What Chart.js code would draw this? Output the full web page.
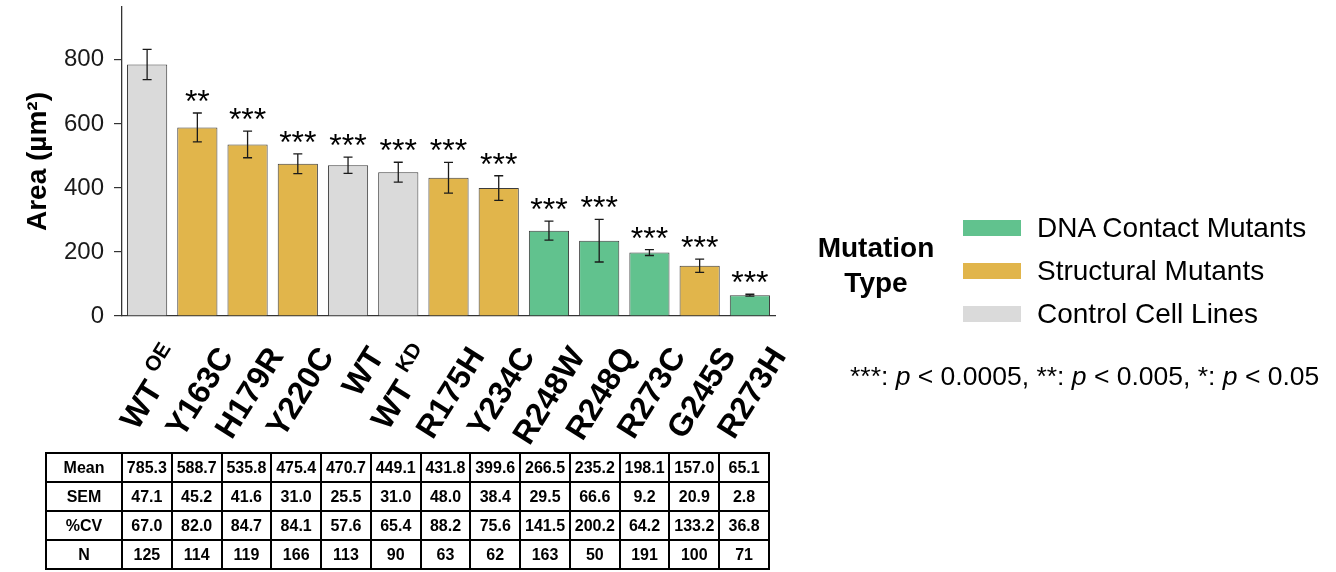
<!DOCTYPE html>
<html>
<head>
<meta charset="utf-8">
<script src="https://cdn.jsdelivr.net/npm/chart.js@4/dist/chart.umd.min.js"></script>
<style>
  html, body { margin: 0; padding: 0; background: #fff; width: 1336px; height: 572px; overflow: hidden; }
  body { position: relative; font-family: "Liberation Sans", Arial, Helvetica, sans-serif; color: #000; }
  #c { position: absolute; left: 0; top: 0; }
  .legend-title { position: absolute; left: 806px; top: 230px; width: 140px; text-align: center; font-weight: bold; font-size: 28px; line-height: 35px; }
  .sw { position: absolute; left: 963px; width: 58px; height: 16px; }
  .lt { position: absolute; left: 1037px; font-size: 28px; line-height: 32px; height: 32px; white-space: nowrap; }
  .foot { position: absolute; left: 850px; top: 360px; font-size: 26.5px; line-height: 32px; white-space: nowrap; }
  table.stats { position: absolute; left: 45px; top: 452px; border-collapse: collapse; table-layout: fixed; width: 723px; font-weight: bold; font-size: 16px; }
  table.stats td { border: 2px solid #000; text-align: center; height: 27px; padding: 0; line-height: 27px; }
</style>
</head>
<body>
<canvas id="c" width="1336" height="572"></canvas>
<div class="legend-title">Mutation<br>Type</div>
<div id="legend"></div>
<div class="foot">***: <i>p</i> &lt; 0.0005, **: <i>p</i> &lt; 0.005, *: <i>p</i> &lt; 0.05</div>
<table class="stats" id="stats"></table>
<script>
// ---------- data ----------
const categories = ['WT', 'Y163C', 'H179R', 'Y220C', 'WT', 'WT', 'R175H', 'Y234C', 'R248W', 'R248Q', 'R273C', 'G245S', 'R273H'];
const superscripts = ['OE', '', '', '', '', 'KD', '', '', '', '', '', '', ''];
const types = ['Control', 'Structural', 'Structural', 'Structural', 'Control', 'Control', 'Structural', 'Structural', 'DNA', 'DNA', 'DNA', 'Structural', 'DNA'];
const meanValues = [785.3, 588.7, 535.8, 475.4, 470.7, 449.1, 431.8, 399.6, 266.5, 235.2, 198.1, 157.0, 65.1];
const semValues = [47.1, 45.2, 41.6, 31.0, 25.5, 31.0, 48.0, 38.4, 29.5, 66.6, 9.2, 20.9, 2.8];
const cvValues = [67.0, 82.0, 84.7, 84.1, 57.6, 65.4, 88.2, 75.6, 141.5, 200.2, 64.2, 133.2, 36.8];
const nValues = [125, 114, 119, 166, 113, 90, 63, 62, 163, 50, 191, 100, 71];
const significance = ['', '**', '***', '***', '***', '***', '***', '***', '***', '***', '***', '***', '***'];
const yTicks = [0, 200, 400, 600, 800];
const legendTypes = ['DNA', 'Structural', 'Control'];
const legendLabels = ['DNA Contact Mutants', 'Structural Mutants', 'Control Cell Lines'];
const typeColors = { DNA: '#61C28E', Structural: '#E1B54B', Control: '#DADADA' };

const FONT = "'Liberation Sans', Arial, Helvetica, sans-serif";
Chart.defaults.font.family = FONT;

const chartLabels = categories.map((c, i) => superscripts[i] ? c + ' ' + superscripts[i] : c);

// ---------- plugins ----------
const errorBarPlugin = {
  id: 'errorBars',
  afterDatasetsDraw(chart) {
    const ctx = chart.ctx, xs = chart.scales.x, ys = chart.scales.y;
    ctx.save();
    ctx.strokeStyle = '#1a1a1a';
    ctx.lineWidth = 1.3;
    meanValues.forEach((m, i) => {
      const x = xs.getPixelForValue(i);
      const yt = ys.getPixelForValue(m + semValues[i]);
      const yb = ys.getPixelForValue(m - semValues[i]);
      ctx.beginPath();
      ctx.moveTo(x, yt); ctx.lineTo(x, yb);
      ctx.moveTo(x - 4.5, yt); ctx.lineTo(x + 4.5, yt);
      ctx.moveTo(x - 4.5, yb); ctx.lineTo(x + 4.5, yb);
      ctx.stroke();
      if (significance[i]) {
        ctx.fillStyle = '#000';
        ctx.font = '32px ' + FONT;
        ctx.textAlign = 'center';
        ctx.textBaseline = 'alphabetic';
        ctx.fillText(significance[i], x, yt - 1);
      }
    });
    ctx.restore();
  }
};

const xLabelPlugin = {
  id: 'xLabels',
  afterDraw(chart) {
    const ctx = chart.ctx, xs = chart.scales.x;
    const ang = 58 * Math.PI / 180;
    const mainFont = 'bold 32px ' + FONT;
    const supFont = 'bold 21px ' + FONT;
    ctx.save();
    ctx.fillStyle = '#000';
    ctx.textAlign = 'left';
    ctx.textBaseline = 'alphabetic';
    categories.forEach((c, i) => {
      const cx = xs.getPixelForValue(i);
      const sup = superscripts[i];
      ctx.font = mainFont;
      const wMain = ctx.measureText(c + (sup ? ' ' : '')).width;
      ctx.font = supFont;
      const wSup = sup ? ctx.measureText(sup).width : 0;
      ctx.setTransform(1, 0, 0, 1, 0, 0);
      ctx.translate(cx + 37, 356);
      ctx.rotate(-ang);
      ctx.font = mainFont;
      ctx.fillText(c, -(wMain + wSup), 0);
      if (sup) {
        ctx.font = supFont;
        ctx.fillText(sup, -wSup, -15);
      }
    });
    ctx.restore();
  }
};

// ---------- chart ----------
new Chart(document.getElementById('c'), {
  type: 'bar',
  data: {
    labels: chartLabels,
    datasets: [{
      data: meanValues,
      backgroundColor: types.map(t => typeColors[t]),
      borderColor: '#3c3c3c',
      borderWidth: 1,
      barPercentage: 0.8,
      categoryPercentage: 1.0
    }]
  },
  options: {
    responsive: false,
    animation: false,
    events: [],
    layout: { padding: { left: 0, right: 561, top: 7, bottom: 0 } },
    plugins: { legend: { display: false }, tooltip: { enabled: false } },
    scales: {
      x: {
        grid: { display: false },
        border: { display: true, color: '#333', width: 1.3 },
        ticks: { display: false },
        afterFit(scale) { scale.height = 256; scale.paddingLeft = 0; scale.paddingRight = 0; }
      },
      y: {
        min: 0,
        max: 965,
        afterBuildTicks(scale) { scale.ticks = yTicks.map(v => ({ value: v })); },
        afterFit(scale) { scale.width = 122; scale.paddingTop = 0; scale.paddingBottom = 0; },
        grid: { display: true, drawOnChartArea: false, drawTicks: true, tickLength: 8, color: '#333', lineWidth: 1.2 },
        border: { display: true, color: '#333', width: 1.3 },
        ticks: { color: '#1a1a1a', font: { size: 24 }, padding: 10 },
        title: { display: true, text: 'Area (µm²)', color: '#000', font: { size: 28, weight: 'bold' }, padding: { top: 21, bottom: 0 } }
      }
    }
  },
  plugins: [errorBarPlugin, xLabelPlugin]
});

// ---------- legend ----------
const legendEl = document.getElementById('legend');
const legendCenters = [228, 271, 314];
legendTypes.forEach((t, i) => {
  const sw = document.createElement('div');
  sw.className = 'sw';
  sw.style.top = (legendCenters[i] - 8) + 'px';
  sw.style.background = typeColors[t];
  legendEl.appendChild(sw);
  const lt = document.createElement('div');
  lt.className = 'lt';
  lt.style.top = (legendCenters[i] - 16) + 'px';
  lt.textContent = legendLabels[i];
  legendEl.appendChild(lt);
});

// ---------- table ----------
const rows = [
  ['Mean', meanValues.map(v => v.toFixed(1))],
  ['SEM', semValues.map(v => v.toFixed(1))],
  ['%CV', cvValues.map(v => v.toFixed(1))],
  ['N', nValues.map(v => String(v))]
];
const table = document.getElementById('stats');
const cg = document.createElement('colgroup');
const c0 = document.createElement('col'); c0.style.width = '76px'; cg.appendChild(c0);
categories.forEach(() => { const c = document.createElement('col'); c.style.width = (647 / 13).toFixed(2) + 'px'; cg.appendChild(c); });
table.appendChild(cg);
rows.forEach(([name, vals]) => {
  const tr = document.createElement('tr');
  const th = document.createElement('td'); th.textContent = name; tr.appendChild(th);
  vals.forEach(v => { const td = document.createElement('td'); td.textContent = v; tr.appendChild(td); });
  table.appendChild(tr);
});
</script>
</body>
</html>
